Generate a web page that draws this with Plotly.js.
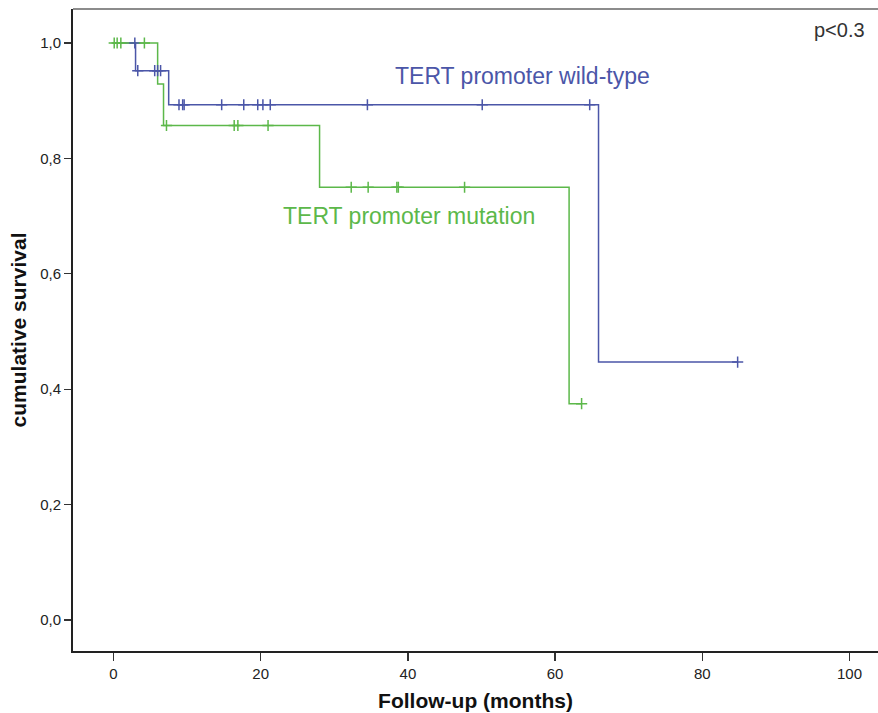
<!DOCTYPE html>
<html>
<head>
<meta charset="utf-8">
<script src="https://cdn.plot.ly/plotly-3.0.1.min.js"></script>
<style>html,body{margin:0;padding:0;background:#fff;}#chart{width:878px;height:713px;}</style>
</head>
<body>
<div id="chart"></div>
<script>
// Kaplan-Meier step curves (time in months, cumulative survival)
var wildTimes = [0, 3.0, 7.5, 65.9, 84.8];
var wildSurv  = [1.0, 0.952, 0.893, 0.447, 0.447];
var mutTimes  = [0, 6.0, 6.8, 28.0, 61.9, 63.6];
var mutSurv   = [1.0, 0.929, 0.857, 0.75, 0.375, 0.375];
// censored observations
var wildCensor = [2.9, 3.3, 5.6, 6.0, 6.4, 8.9, 9.4, 9.6, 14.7, 17.7, 19.6, 20.3, 21.3, 34.5, 50.1, 64.7, 84.8];
var mutCensor  = [0.1, 0.5, 1.0, 4.2, 7.2, 16.4, 16.9, 21.0, 32.3, 34.6, 38.5, 38.7, 47.7, 63.6];
var yTicks = [0, 0.2, 0.4, 0.6, 0.8, 1.0];
var xTicks = [0, 20, 40, 60, 80, 100];

var blue = '#4b56a8', green = '#5cb84a';

function survAt(times, surv, t) {
  var s = surv[0];
  for (var i = 0; i < times.length; i++) { if (times[i] <= t) s = surv[i]; }
  return s;
}

var traces = [
  {x: wildTimes, y: wildSurv, mode: 'lines', line: {shape: 'hv', color: blue, width: 1.5}, hoverinfo: 'skip'},
  {x: mutTimes, y: mutSurv, mode: 'lines', line: {shape: 'hv', color: green, width: 1.5}, hoverinfo: 'skip'},
  {x: wildCensor, y: wildCensor.map(function(t){return survAt(wildTimes, wildSurv, t);}), mode: 'markers',
   marker: {symbol: 'cross-thin', size: 8, color: blue, line: {color: blue, width: 1.5}}},
  {x: mutCensor, y: mutCensor.map(function(t){return survAt(mutTimes, mutSurv, t);}), mode: 'markers',
   marker: {symbol: 'cross-thin', size: 8, color: green, line: {color: green, width: 1.5}}}
];

var layout = {
  width: 878, height: 713,
  margin: {l: 73, r: 0, t: 9, b: 62},
  showlegend: false,
  separators: ',.',
  paper_bgcolor: '#fff', plot_bgcolor: '#fff',
  font: {family: 'Liberation Sans, Arial, sans-serif', color: '#333'},
  xaxis: {
    range: [-5.5, 103.87], tickvals: xTicks, ticks: 'outside', ticklen: 8, tickwidth: 1.3, tickcolor: '#333',
    showgrid: false, zeroline: false, showline: true, linecolor: '#222', linewidth: 2,
    tickfont: {size: 15, family: 'Liberation Sans, Arial', color: '#222'},
    title: {text: 'Follow-up (months)', font: {size: 21, family: 'Liberation Sans, Arial', color: '#111', weight: 'bold'}, standoff: 12}
  },
  yaxis: {
    range: [-0.0537, 1.0589], tickvals: yTicks, tickformat: '.1f', ticks: 'outside', ticklen: 7, tickwidth: 1.3, tickcolor: '#333',
    showgrid: false, zeroline: false, showline: true, linecolor: '#222', linewidth: 2,
    tickfont: {size: 15, color: '#222'},
    title: {text: 'cumulative survival', font: {size: 21, family: 'Liberation Sans, Arial', color: '#111', weight: 'bold'}, standoff: 8}
  },
  shapes: [
    {type: 'line', xref: 'paper', yref: 'paper', x0: 0, x1: 1, y0: 1, y1: 1, line: {color: '#666', width: 1.5}}
  ],
  annotations: [
    {x: 55.6, y: 0.943, xref: 'x', yref: 'y', text: 'TERT promoter wild-type', showarrow: false,
     font: {size: 23, color: blue, family: 'Liberation Sans, Arial'}},
    {x: 40.1, y: 0.700, xref: 'x', yref: 'y', text: 'TERT promoter mutation', showarrow: false,
     font: {size: 23, color: green, family: 'Liberation Sans, Arial'}},
    {x: 0.986, y: 0.967, xref: 'paper', yref: 'paper', xanchor: 'right', yanchor: 'middle', text: 'p<0.3', showarrow: false,
     font: {size: 20, color: '#333', family: 'Liberation Sans, Arial'}}
  ]
};

Plotly.newPlot('chart', traces, layout, {displayModeBar: false, staticPlot: true});
</script>
</body>
</html>
